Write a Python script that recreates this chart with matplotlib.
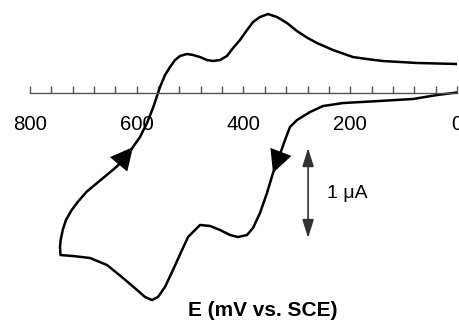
import matplotlib
matplotlib.use("Agg")
import matplotlib.pyplot as plt
from matplotlib.ticker import MultipleLocator, FixedLocator

plt.rcParams['font.family'] = ['Liberation Sans', 'DejaVu Sans']

# cathodic scan: 0 mV -> 743 mV (current in uA)
E_fwd = [0, 37.5, 82.4, 144.3, 213.6, 251.0, 275.4, 299.8, 312.9, 322.2, 333.5,
         344.7, 356.0, 369.1, 382.2, 393.4, 410.3, 425.3, 444.0, 462.8, 481.5,
         503.9, 515.2, 532.1, 547.1, 560.2, 571.4, 584.6, 599.5, 625.8, 655.7,
         687.6, 719.4, 742.9]
I_fwd = [0, -0.028, -0.072, -0.094, -0.117, -0.150, -0.217, -0.306, -0.383, -0.528, -0.717,
         -0.894, -1.117, -1.339, -1.506, -1.583, -1.606, -1.583, -1.528, -1.483, -1.472,
         -1.606, -1.750, -1.972, -2.161, -2.272, -2.306, -2.272, -2.194, -2.061, -1.917,
         -1.839, -1.817, -1.806]
# anodic scan: 743 mV -> 0 mV
E_rev = [742.9, 743.8, 742.5, 738.7, 732.6, 721.9, 710.1, 693.8, 675.0, 656.3,
         637.6, 622.0, 607.0, 593.9, 580.8, 569.6, 560.2, 556.4, 547.1, 537.7,
         528.3, 518.9, 505.9, 494.6, 481.5, 468.4, 457.1, 444.0, 430.9, 419.7,
         406.6, 393.4, 382.2, 369.1, 354.1, 337.2, 318.5, 299.8, 281.0, 262.3,
         232.3, 194.9, 168.6, 138.6, 74.9, 0]
I_rev = [-1.806, -1.713, -1.639, -1.528, -1.417, -1.306, -1.213, -1.102, -1.009, -0.917,
         -0.824, -0.728, -0.606, -0.494, -0.339, -0.172, -0.006, 0.061, 0.194, 0.283,
         0.361, 0.406, 0.428, 0.417, 0.394, 0.361, 0.350, 0.361, 0.406, 0.494,
         0.583, 0.694, 0.783, 0.839, 0.872, 0.839, 0.772, 0.683, 0.610, 0.550,
         0.472, 0.394, 0.372, 0.350, 0.328, 0.317]

xticks = [800, 600, 400, 200, 0]
xlabel = "E (mV vs. SCE)"
scale_label = "1 \u03bcA"
scale_E = 279
scale_I = [-0.617, -1.617]

fig = plt.figure(figsize=(4.6, 3.2), dpi=100)
ax = fig.add_axes([30/460, 0, 427/460, 1])
ax.set_xlim(800, 0)
ax.set_ylim(-2.528, 1.028)

ax.plot(E_fwd + E_rev, I_fwd + I_rev, color='black', lw=1.8, solid_joinstyle='round',
        solid_capstyle='round')

# direction arrows
def curve_arrow(E, I, i_tail, i_tip):
    ax.annotate('', xy=(E[i_tip], I[i_tip]), xytext=(E[i_tail], I[i_tail]),
                arrowprops=dict(arrowstyle='-|>,head_length=0.9,head_width=0.45',
                                color='black', lw=0, shrinkA=0, shrinkB=0,
                                mutation_scale=18))
curve_arrow(E_rev, I_rev, 10, 12)
curve_arrow(E_fwd, I_fwd, 10, 11)

# scale bar
ax.annotate('', xy=(scale_E, scale_I[0]), xytext=(scale_E, scale_I[1]),
            arrowprops=dict(arrowstyle='<|-|>,head_length=0.8,head_width=0.25',
                            color='#333333', lw=1.2, shrinkA=0, shrinkB=0,
                            mutation_scale=14))
ax.text(scale_E - 35, sum(scale_I)/2, scale_label, fontsize=14, ha='left', va='center')

for s in ['top', 'left', 'right']:
    ax.spines[s].set_visible(False)
ax.spines['bottom'].set_position(('data', 0))
ax.spines['bottom'].set_color('#555555')
ax.spines['bottom'].set_linewidth(1.0)
ax.yaxis.set_visible(False)
ax.xaxis.set_major_locator(FixedLocator(xticks))
ax.xaxis.set_minor_locator(MultipleLocator(40))
ax.tick_params(axis='x', which='both', direction='in', length=5, width=1.0,
               color='#555555', labelsize=14.7, pad=16)
ax.set_xticklabels([str(v) for v in xticks])
ax.patch.set_visible(False)

fig.text(263/460, 1 - 310/320, xlabel, fontsize=15, fontweight='bold',
         ha='center', va='center')

fig.savefig('out.png', dpi=100)
